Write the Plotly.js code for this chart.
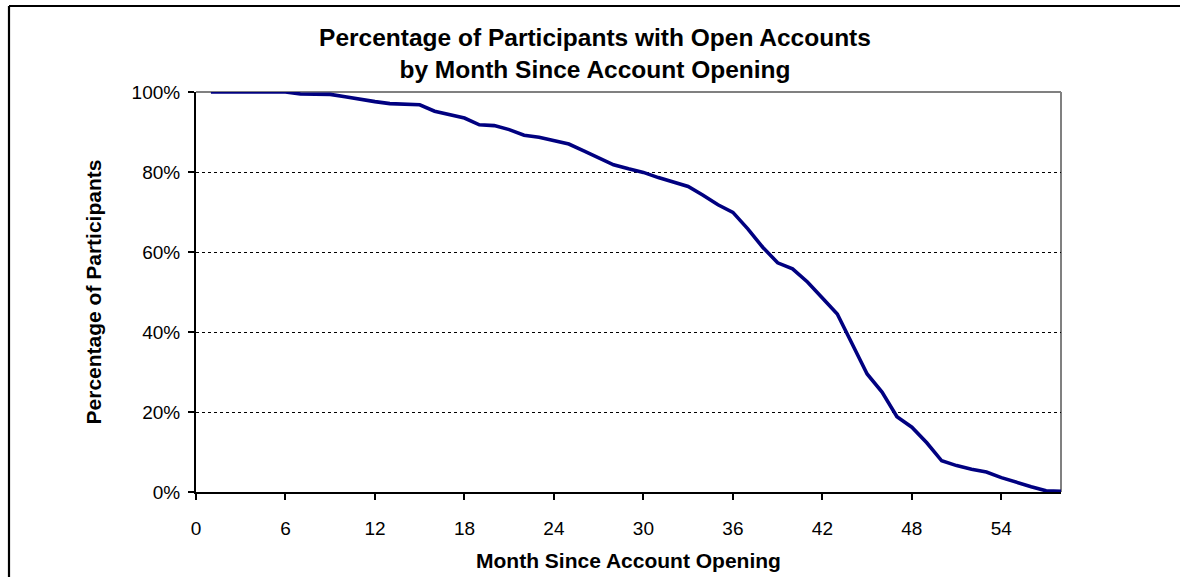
<!DOCTYPE html>
<html>
<head>
<meta charset="utf-8">
<script src="https://cdn.plot.ly/plotly-3.0.1.min.js"></script>
<style>
  html, body { margin: 0; padding: 0; background: #ffffff; }
  #chart { width: 1180px; height: 577px; }
</style>
</head>
<body>
<div id="chart"></div>
<script>
// Month since account opening
const months = [1, 2, 3, 4, 5, 6, 7, 8, 9, 10,
                11, 12, 13, 14, 15, 16, 17, 18, 19, 20,
                21, 22, 23, 24, 25, 26, 27, 28, 29, 30,
                31, 32, 33, 34, 35, 36, 37, 38, 39, 40,
                41, 42, 43, 44, 45, 46, 47, 48, 49, 50,
                51, 52, 53, 54, 55, 56, 57, 58];
// Percentage of participants with open accounts
const pctOpen = [100, 100, 100, 100, 100, 100, 99.5, 99.5, 99.4, 98.8,
                 98.1, 97.6, 97.1, 97.0, 96.8, 95.2, 94.3, 93.5, 91.8, 91.6,
                 90.6, 89.2, 88.7, 87.9, 87.0, 85.3, 83.6, 81.8, 80.8, 79.9,
                 78.6, 77.6, 76.4, 74.2, 71.8, 69.9, 65.8, 61.2, 57.3, 55.8,
                 52.5, 48.5, 44.5, 37.0, 29.5, 25.0, 18.8, 16.2, 12.3, 7.8,
                 6.6, 5.7, 5.0, 3.6, 2.4, 1.3, 0.3, 0.2];
const xTicks = [0, 6, 12, 18, 24, 30, 36, 42, 48, 54];
const yTicks = [0, 20, 40, 60, 80, 100];
const yTickText = ['0%', '20%', '40%', '60%', '80%', '100%'];

const FONT = 'Liberation Sans, Arial, sans-serif';

const trace = {
  x: months,
  y: pctOpen,
  type: 'scatter',
  mode: 'lines',
  line: { color: '#000080', width: 3.6 },
  hoverinfo: 'x+y'
};

const layout = {
  width: 1180,
  height: 577,
  margin: { l: 196, r: 119, t: 92, b: 85, pad: 0 },
  paper_bgcolor: '#ffffff',
  plot_bgcolor: '#ffffff',
  showlegend: false,
  font: { family: FONT, color: '#000000', size: 19 },
  title: {
    text: 'Percentage of Participants with Open Accounts<br>by Month Since Account Opening',
    font: { family: FONT, size: 24.5, color: '#000000', weight: 'bold' },
    x: 595 / 1180,
    xref: 'container',
    xanchor: 'center',
    y: 1 - 46 / 577,
    yref: 'container',
    yanchor: 'top'
  },
  xaxis: {
    range: [0, 58],
    tickmode: 'array',
    tickvals: xTicks,
    ticktext: xTicks.map(String),
    ticks: 'outside',
    ticklen: 6,
    tickwidth: 2,
    tickcolor: '#000000',
    ticklabelstandoff: 12,
    showline: true,
    linecolor: '#000000',
    linewidth: 2,
    showgrid: false,
    zeroline: false,
    tickfont: { family: FONT, size: 19, color: '#000000' },
    title: {
      text: 'Month Since Account Opening',
      font: { family: FONT, size: 21, color: '#000000', weight: 'bold' },
      standoff: 16
    },
    automargin: false,
    fixedrange: true
  },
  yaxis: {
    range: [0, 100],
    tickmode: 'array',
    tickvals: yTicks,
    ticktext: yTickText,
    ticks: 'outside',
    ticklen: 6,
    tickwidth: 2,
    tickcolor: '#000000',
    ticklabelstandoff: 4,
    showline: true,
    linecolor: '#000000',
    linewidth: 2,
    showgrid: true,
    gridcolor: '#000000',
    gridwidth: 1,
    griddash: 'dot',
    zeroline: false,
    tickfont: { family: FONT, size: 19, color: '#000000' },
    title: {
      text: 'Percentage of Participants',
      font: { family: FONT, size: 21, color: '#000000', weight: 'bold' },
      standoff: 24
    },
    automargin: false,
    fixedrange: true
  },
  shapes: [
    // grey frame top and right of plot area
    { type: 'line', xref: 'paper', yref: 'paper', x0: 0, x1: 1, y0: 1, y1: 1,
      line: { color: '#808080', width: 2 }, layer: 'below' },
    { type: 'line', xref: 'paper', yref: 'paper', x0: 1, x1: 1, y0: 0, y1: 1,
      line: { color: '#808080', width: 2 }, layer: 'below' },
    // outer chart-area border (top and left)
    { type: 'line', xref: 'paper', yref: 'paper',
      x0: (9 - 196) / 865, x1: (1185 - 196) / 865, y0: (492 - 6) / 400, y1: (492 - 6) / 400,
      line: { color: '#000000', width: 2.2 }, layer: 'above' },
    { type: 'line', xref: 'paper', yref: 'paper',
      x0: (9 - 196) / 865, x1: (9 - 196) / 865, y0: (492 - 6) / 400, y1: (492 - 590) / 400,
      line: { color: '#000000', width: 2.2 }, layer: 'above' }
  ]
};

Plotly.newPlot('chart', [trace], layout, { displayModeBar: false, staticPlot: true });
</script>
</body>
</html>
